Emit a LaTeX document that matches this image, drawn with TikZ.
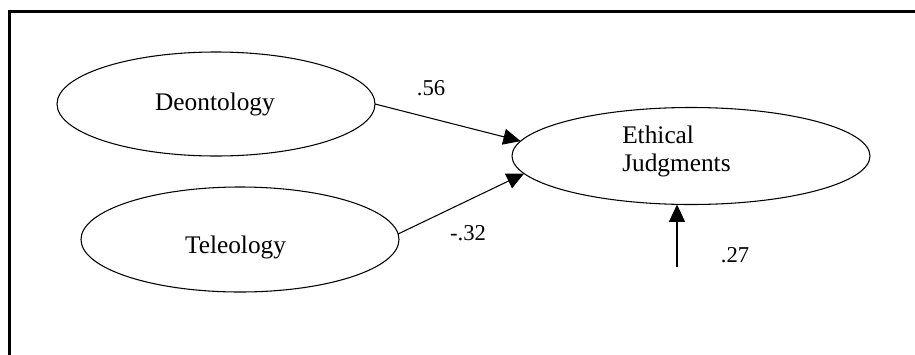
\documentclass[tikz,border=0pt]{standalone}
\usepackage{fontspec}
\setmainfont{Liberation Serif}
\usetikzlibrary{shapes.geometric,arrows.meta}
\begin{document}
\begin{tikzpicture}[x=0.75pt,y=-0.75pt,
  oval/.style={ellipse,draw,line width=0.8pt,inner sep=0pt,outer sep=0pt},
  txt/.style={inner sep=0pt,font=\fontsize{19}{21}\selectfont},
  lab/.style={inner sep=0pt,font=\fontsize{17}{20}\selectfont},
  arr/.style={line width=0.8pt,-{Triangle[length=13pt,width=12pt]}}]
\useasboundingbox (0,0) rectangle (915,354);
\draw[line width=1.7pt,line join=miter] (9.5,360) -- (9.5,11.5) -- (920,11.5);
\node[oval,minimum width=238.5pt,minimum height=78pt] (d) at (216,104) {};
\node[oval,minimum width=238.5pt,minimum height=78.75pt] (t) at (240,239.5) {};
\node[oval,minimum width=268.5pt,minimum height=72.75pt] (e) at (691,156) {};
\node[txt,anchor=base] (dt) at (215,110) {Deontology};
\node[txt,anchor=base] (tt) at (235.5,253) {Teleology};
\node[txt,anchor=base west] (ej1) at (622,143) {Ethical};
\node[txt,anchor=base west] (ej2) at (622,171) {Judgments};
\coordinate (err) at (677,267);
\draw[arr] (d.east) -- (e.175.5);
\draw[arr] (t.2) -- (e.186.3);
\draw[arr] (err) -- (err |- e.south);
\node[lab,anchor=base] (l1) at (431,95) {.56};
\node[lab,anchor=base] (l2) at (468,240) {-.32};
\node[lab,anchor=base] (l3) at (735,262) {.27};
\end{tikzpicture}
\end{document}
